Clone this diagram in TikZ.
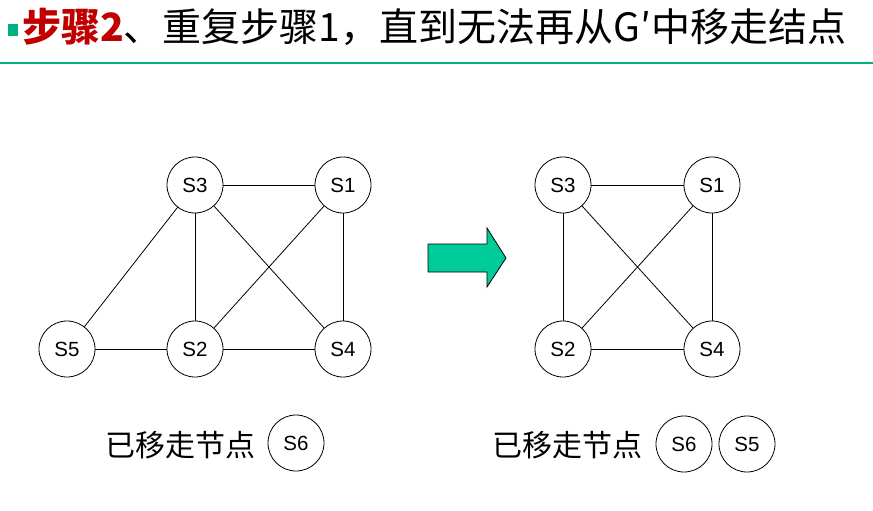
\documentclass[tikz,border=0pt]{standalone}
\usepackage{fontspec}
\setmainfont{Liberation Sans}
\newfontfamily\cjk{Noto Sans CJK SC}
\definecolor{titlered}{RGB}{192,0,0}
\definecolor{teal}{RGB}{0,176,128}
\definecolor{arrowgreen}{RGB}{0,204,153}
\begin{document}
\begin{tikzpicture}[x=1pt,y=-1pt,
  vtx/.style={circle,draw=black,line width=0.8pt,minimum size=56pt,inner sep=0pt,font=\fontsize{20.5}{20.5}\selectfont},
  edge/.style={line width=0.8pt}]
\useasboundingbox (0,0) rectangle (873,511);
% title
\fill[teal] (8,24) rectangle (18,36);
\node[anchor=base west,inner sep=0pt] (title) at (22,42) {\cjk\fontsize{39}{39}\selectfont\textcolor{titlered}{\bfseries 步骤2}、重复步骤1，直到无法再从G′中移走结点};
\draw[teal,line width=1.5pt] (0,63) -- (873,63);
% left graph
\node[vtx] (l3) at (195,185) {S3};
\node[vtx] (l1) at (343,185) {S1};
\node[vtx] (l5) at (67,349) {S5};
\node[vtx] (l2) at (195,349) {S2};
\node[vtx] (l4) at (343,349) {S4};
\foreach \a/\b in {l3/l1,l3/l5,l3/l2,l3/l4,l1/l2,l1/l4,l5/l2,l2/l4}
  \draw[edge] (\a) -- (\b);
% arrow
\draw[fill=arrowgreen,line width=0.8pt] (428,244) -- (487,244) -- (487,228) -- (506,258) -- (487,287) -- (487,272) -- (428,272) -- cycle;
% right graph
\node[vtx] (r3) at (563,185) {S3};
\node[vtx] (r1) at (712,185) {S1};
\node[vtx] (r2) at (563,349) {S2};
\node[vtx] (r4) at (712,349) {S4};
\foreach \a/\b in {r3/r1,r3/r2,r3/r4,r1/r2,r1/r4,r2/r4}
  \draw[edge] (\a) -- (\b);
% removed
\node[anchor=west,inner sep=0pt] (lab1) at (105,445) {\cjk\fontsize{30}{30}\selectfont 已移走节点};
\node[vtx] (l6) at (296,443) {S6};
\node[anchor=west,inner sep=0pt] (lab2) at (492,445) {\cjk\fontsize{30}{30}\selectfont 已移走节点};
\node[vtx] (r6) at (684,444) {S6};
\node[vtx] (r5) at (747,444) {S5};
\end{tikzpicture}
\end{document}
